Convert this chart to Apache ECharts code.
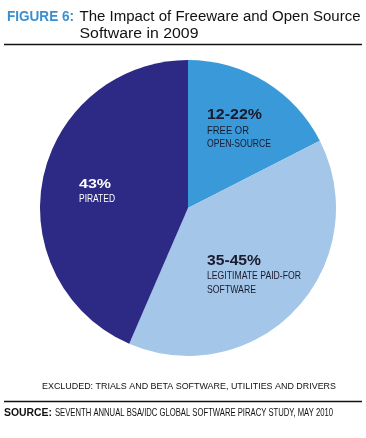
<!DOCTYPE html>
<html><head><meta charset="utf-8">
<script src="https://cdn.jsdelivr.net/npm/echarts@6/dist/echarts.min.js"></script>
<style>html,body{margin:0;padding:0;background:#fff;}#c{width:366px;height:438px;}</style>
</head><body><div id="c"></div>
<script>
const categories = ['FREE OR OPEN-SOURCE', 'LEGITIMATE PAID-FOR SOFTWARE', 'PIRATED'];
const values = [17.5, 39, 43.5];
const valueLabels = ['12-22%', '35-45%', '43%'];
const subLabels = [['FREE OR', 'OPEN-SOURCE'], ['LEGITIMATE PAID-FOR', 'SOFTWARE'], ['PIRATED']];
const colors = ['#3a9ad9', '#a3c6e9', '#2c2a84'];

const F = '"Liberation Sans", Arial, sans-serif';
const mctx = document.createElement('canvas').getContext('2d');
function fitText(text, x, yCenter, capH, targetW, weight, fill) {
  const size = capH / 0.716;
  const font = (weight || 'normal') + ' ' + size.toFixed(2) + 'px ' + F;
  mctx.font = font;
  const w = mctx.measureText(text).width;
  return {type: 'text', x: x, y: yCenter, scaleX: targetW / w, scaleY: 1, z: 10,
    style: {text: text, font: font, fill: fill || '#111', align: 'left', verticalAlign: 'middle'}};
}

const chart = echarts.init(document.getElementById('c'), null, {renderer: 'canvas'});

// label layout: [x, centerY, capHeight, width] for value line, then sub lines
const valueLayout = [[207, 115.3, 10.7, 55], [207, 260.5, 11, 54], [79, 184, 9.7, 32]];
const subLayout = [[[130.8, 7.2, 42], [144.2, 7.2, 64]], [[276.5, 7.2, 94], [290, 7.2, 49]], [[198.7, 8, 36]]];
const labelColor = ['#1a1a2e', '#1a1a2e', '#ffffff'];

const graphics = [
  fitText('FIGURE 6:', 7, 17.5, 10, 67, 'bold', '#3b8fd0'),
  fitText('The Impact of Freeware and Open Source', 79.5, 17.5, 10, 281, 'normal', '#111'),
  fitText('Software in 2009', 79.5, 34, 10, 119, 'normal', '#111'),
  {type:'line', shape:{x1:4, y1:44.5, x2:362, y2:44.5}, style:{stroke:'#111', lineWidth:1.3}},
  fitText('EXCLUDED: TRIALS AND BETA SOFTWARE, UTILITIES AND DRIVERS', 42, 386, 7, 294, 'normal', '#111'),
  {type:'line', shape:{x1:4, y1:401.5, x2:362, y2:401.5}, style:{stroke:'#111', lineWidth:1.3}},
  fitText('SOURCE:', 4, 413, 7.5, 48, 'bold', '#111'),
  fitText('SEVENTH ANNUAL BSA/IDC GLOBAL SOFTWARE PIRACY STUDY, MAY 2010', 55, 413, 7.5, 278, 'normal', '#111')
];
for (let i = 0; i < categories.length; i++) {
  const v = valueLayout[i];
  graphics.push(fitText(valueLabels[i], v[0], v[1], v[2], v[3], 'bold', labelColor[i]));
  subLabels[i].forEach((t, j) => {
    const s = subLayout[i][j];
    graphics.push(fitText(t, v[0], s[0], s[1], s[2], 'normal', labelColor[i]));
  });
}

chart.setOption({
  animation: false,
  backgroundColor: '#fff',
  graphic: graphics,
  series: [{
    type: 'pie',
    center: [188, 208],
    radius: [0, 148],
    startAngle: 90,
    clockwise: true,
    label: {show: false},
    labelLine: {show: false},
    itemStyle: {borderWidth: 0},
    emphasis: {disabled: true},
    data: categories.map((c, i) => ({name: c, value: values[i], itemStyle: {color: colors[i]}}))
  }]
});
</script></body></html>
